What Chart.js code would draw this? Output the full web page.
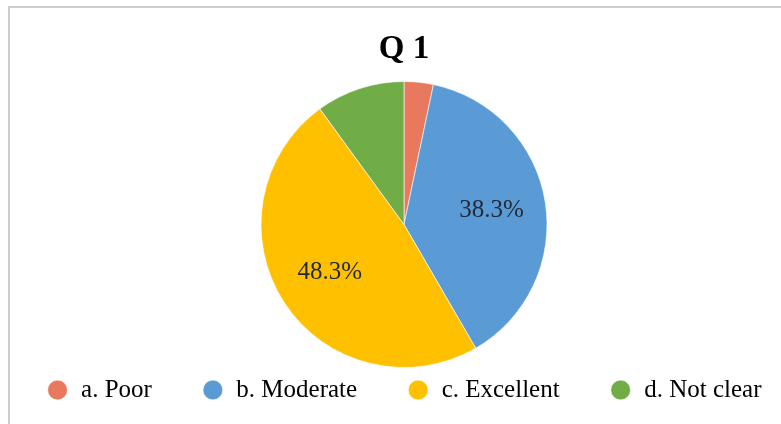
<!DOCTYPE html>
<html>
<head>
<meta charset="utf-8">
<script src="https://cdn.jsdelivr.net/npm/chart.js@4"></script>
<style>
  html, body { margin: 0; padding: 0; background: #fff; }
  body { width: 781px; height: 424px; position: relative; overflow: hidden; }
  #frame { position: absolute; left: 8px; top: 6px; width: 900px; height: 500px;
           border-top: 2px solid #cdcdcd; border-left: 2px solid #cdcdcd; }
  #chart { position: absolute; left: 0; top: 0; }
</style>
</head>
<body>
<div id="frame"></div>
<canvas id="chart" width="781" height="424"></canvas>
<script>
// datos del grafico
const categorias = ['a. Poor', 'b. Moderate', 'c. Excellent', 'd. Not clear'];
const porcentajes = [3.3, 38.3, 48.3, 10.0];
const colores = ['#E8795F', '#5B9BD5', '#FFC000', '#70AD47'];
const minEtiqueta = 20; // solo se rotulan las porciones grandes

const fuente = '"Liberation Serif", "Times New Roman", serif';

// sube la leyenda y corre la torta un poco a la derecha
const ajustes = {
  id: 'ajustes',
  afterLayout(chart) {
    chart.legend.top -= 40.5;
    const area = chart.chartArea;
    area.left = 27;
    area.width = area.right - area.left;
  }
};

// etiquetas de porcentaje dentro de la torta
const etiquetas = {
  id: 'etiquetas',
  afterDatasetsDraw(chart) {
    const ctx = chart.ctx;
    const meta = chart.getDatasetMeta(0);
    ctx.save();
    ctx.font = '25px ' + fuente;
    ctx.fillStyle = '#222a3a';
    ctx.textAlign = 'center';
    ctx.textBaseline = 'middle';
    meta.data.forEach((arc, i) => {
      if (porcentajes[i] < minEtiqueta) return;
      const p = arc.getProps(['x', 'y', 'startAngle', 'endAngle', 'outerRadius'], true);
      const ang = (p.startAngle + p.endAngle) / 2;
      const r = p.outerRadius * 0.62;
      ctx.fillText(porcentajes[i].toFixed(1) + '%', p.x + Math.cos(ang) * r, p.y + Math.sin(ang) * r);
    });
    ctx.restore();
  }
};

new Chart(document.getElementById('chart').getContext('2d'), {
  type: 'pie',
  data: {
    labels: categorias,
    datasets: [{
      data: porcentajes,
      backgroundColor: colores,
      borderColor: 'rgba(255,255,255,0.6)',
      borderWidth: 1
    }]
  },
  options: {
    responsive: false,
    animation: false,
    // padding negativo para que la leyenda entre en una sola fila
    layout: { padding: { left: -20, right: -47, top: 0, bottom: 0 } },
    plugins: {
      title: {
        display: true,
        text: 'Q 1',
        color: '#000',
        font: { family: fuente, size: 33, weight: 'bold' },
        padding: { top: 30, bottom: 11.4 }
      },
      legend: {
        position: 'bottom',
        maxHeight: 56,
        labels: {
          usePointStyle: true,
          pointStyle: 'circle',
          boxWidth: 22,
          boxHeight: 14,
          padding: 50,
          color: '#000',
          font: { family: fuente, size: 25 }
        }
      },
      tooltip: { enabled: false }
    }
  },
  plugins: [ajustes, etiquetas]
});
</script>
</body>
</html>
